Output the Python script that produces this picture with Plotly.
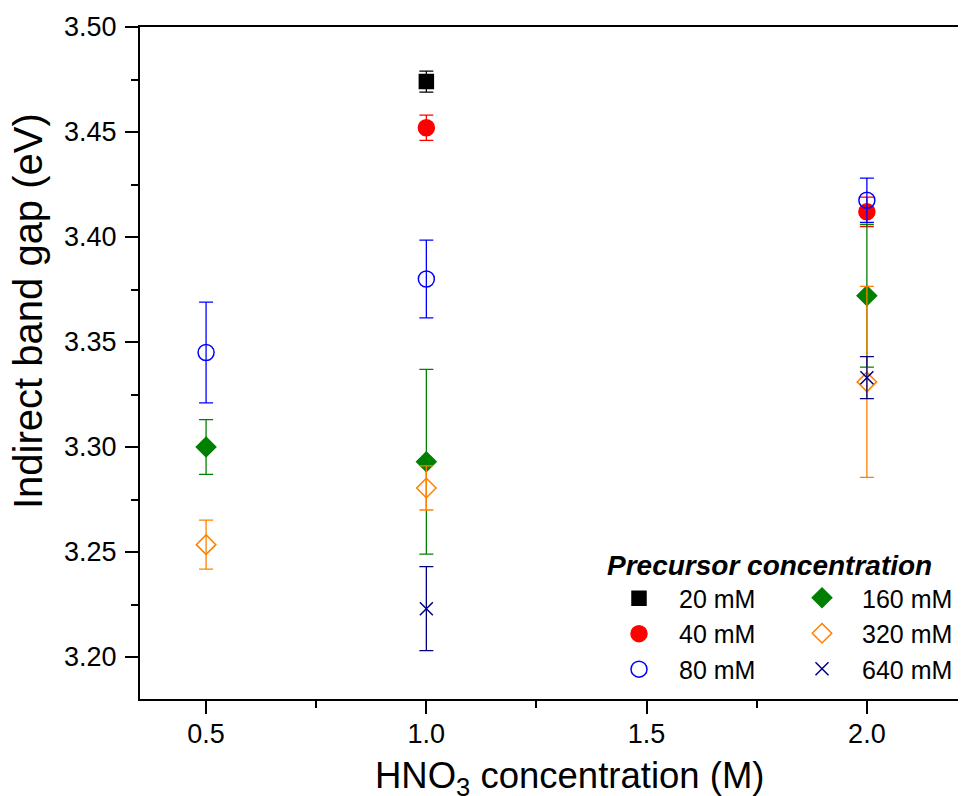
import plotly.graph_objects as go

# HNO3 concentration categories (evenly spaced on the x axis)
hno3_cats = ["0.5", "1.0", "1.5", "2.0"]

# Series: precursor concentration
s20_x = ["1.0"]
s20_y = [3.474]
s20_e = [0.005]

s40_x = ["1.0", "2.0"]
s40_y = [3.452, 3.412]
s40_e = [0.006, 0.007]

s80_x = ["0.5", "1.0", "2.0"]
s80_y = [3.345, 3.380, 3.4175]
s80_e = [0.024, 0.0185, 0.0105]

s160_x = ["0.5", "1.0", "2.0"]
s160_y = [3.300, 3.293, 3.372]
s160_e = [0.013, 0.044, 0.034]

s320_x = ["0.5", "1.0", "2.0"]
s320_y = [3.2535, 3.2805, 3.331]
s320_e = [0.0117, 0.0105, 0.0455]

s640_x = ["1.0", "2.0"]
s640_y = [3.223, 3.333]
s640_e = [0.020, 0.010]

y_ticks = [3.20, 3.25, 3.30, 3.35, 3.40, 3.45, 3.50]

FONT = "Arial, 'Liberation Sans', sans-serif"

# page geometry (the page body has an 8 px margin)
PL, PT, PB, PR = 140, 27, 699, 966   # plot area in page pixels
PW, PH = PR - PL, PB - PT


def px_x(p):
    return (p - PL) / PW


def px_y(p):
    return (PB - p) / PH


def pos(xs):
    return [hno3_cats.index(v) for v in xs]


series = [
    ("20 mM", s20_x, s20_y, s20_e, "#000000", "square", 14, "legend"),
    ("40 mM", s40_x, s40_y, s40_e, "#FF0000", "circle", 16, "legend"),
    ("80 mM", s80_x, s80_y, s80_e, "#0000FF", "circle-open", 16, "legend"),
    ("160 mM", s160_x, s160_y, s160_e, "#008000", "diamond", 15, "legend2"),
    ("320 mM", s320_x, s320_y, s320_e, "#FF8000", "diamond-open", 15, "legend2"),
    ("640 mM", s640_x, s640_y, s640_e, "#000080", "x-thin-open", 13, "legend2"),
]

fig = go.Figure()
for name, xs, ys, es, color, sym, size, leg in series:
    fig.add_trace(go.Scatter(
        x=pos(xs), y=ys, mode="markers", name=name, legend=leg,
        marker=dict(symbol=sym, size=size, color=color,
                    line=dict(color=color, width=1.5)),
        error_y=dict(type="data", array=es, visible=True, color=color,
                     thickness=1.3, width=7),
    ))

axis_common = dict(
    showline=True, linecolor="black", linewidth=2,
    ticks="outside", ticklen=13, tickwidth=2, tickcolor="black",
    showgrid=False, zeroline=False,
    tickfont=dict(family=FONT, size=27, color="black"),
)

fig.update_xaxes(
    range=[-0.3, 3.45], tickvals=list(range(len(hno3_cats))), ticktext=hno3_cats,
    mirror=True,
    minor=dict(tickvals=[0.5, 1.5, 2.5], ticks="outside", ticklen=7,
               tickwidth=2, tickcolor="black"),
    ticklabelstandoff=-3,
    **axis_common,
)
fig.update_yaxes(
    range=[3.18, 3.50], tickvals=y_ticks, tickformat=".2f",
    minor=dict(dtick=0.025, tick0=3.2, ticks="outside", ticklen=7,
               tickwidth=2, tickcolor="black"),
    ticklabelstandoff=3,
    **axis_common,
)

legend_common = dict(
    xanchor="left", yanchor="top", bgcolor="rgba(0,0,0,0)",
    font=dict(family=FONT, size=25, color="black"),
    itemwidth=70, indentation=-6,
)

fig.update_layout(
    width=958, height=788,
    margin=dict(l=PL - 8, r=0, t=PT - 8, b=788 - (PB - 8)),
    plot_bgcolor="white", paper_bgcolor="white",
    font=dict(family=FONT, color="black"),
    legend=dict(
        x=px_x(605), y=px_y(539),
        title=dict(text="<b><i>Precursor concentration</i></b>",
                   font=dict(family=FONT, size=28, color="black"), side="top"),
        **legend_common,
    ),
    legend2=dict(
        x=px_x(788), y=px_y(575),
        **legend_common,
    ),
    annotations=[
        dict(text="Indirect band gap (eV)", textangle=-90,
             x=px_x(28), y=px_y(311), xref="paper", yref="paper",
             xanchor="center", yanchor="middle", showarrow=False,
             font=dict(family=FONT, size=40, color="black")),
        dict(text="HNO<sub>3</sub> concentration (M)",
             x=px_x(569), y=px_y(778), xref="paper", yref="paper",
             xanchor="center", yanchor="middle", showarrow=False,
             font=dict(family=FONT, size=36.5, color="black")),
    ],
)

fig.write_html("out.html")
